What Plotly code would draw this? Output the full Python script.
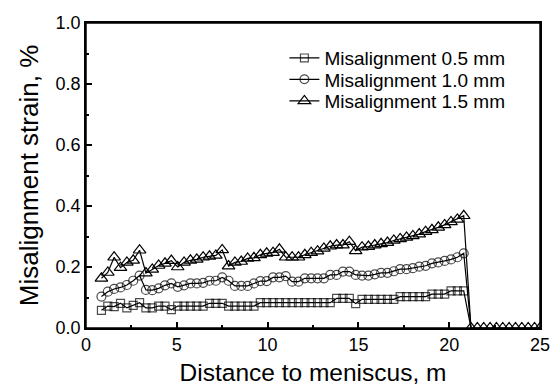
import plotly.graph_objects as go

# Distance to meniscus (m) sampled along the strand
distance = [0.85, 1.20, 1.55, 1.90, 2.25, 2.60, 2.95, 3.30, 3.65, 4.00,
            4.35, 4.70, 5.05, 5.40, 5.75, 6.10, 6.45, 6.80, 7.15, 7.50,
            7.85, 8.20, 8.55, 8.90, 9.25, 9.60, 9.95, 10.30, 10.65, 11.00,
            11.35, 11.70, 12.05, 12.40, 12.75, 13.10, 13.45, 13.80, 14.15, 14.50,
            14.85, 15.20, 15.55, 15.90, 16.25, 16.60, 16.95, 17.30, 17.65, 18.00,
            18.35, 18.70, 19.05, 19.40, 19.75, 20.10, 20.45, 20.80]

# Misalignment strain (%) for each misalignment value
strain_05 = [0.058, 0.072, 0.070, 0.081, 0.066, 0.074, 0.083, 0.066, 0.066, 0.072,
             0.072, 0.060, 0.072, 0.072, 0.072, 0.072, 0.072, 0.081, 0.081, 0.081,
             0.072, 0.072, 0.072, 0.072, 0.072, 0.083, 0.083, 0.083, 0.083, 0.083,
             0.083, 0.083, 0.083, 0.083, 0.083, 0.083, 0.083, 0.097, 0.097, 0.097,
             0.080, 0.094, 0.094, 0.094, 0.094, 0.094, 0.094, 0.103, 0.103, 0.103,
             0.103, 0.103, 0.111, 0.111, 0.111, 0.122, 0.122, 0.122]

strain_10 = [0.103, 0.119, 0.128, 0.133, 0.141, 0.155, 0.172, 0.125, 0.124, 0.130,
             0.140, 0.146, 0.135, 0.140, 0.146, 0.146, 0.148, 0.155, 0.155, 0.166,
             0.155, 0.138, 0.138, 0.138, 0.146, 0.154, 0.154, 0.166, 0.166, 0.170,
             0.152, 0.152, 0.163, 0.163, 0.163, 0.163, 0.174, 0.174, 0.185, 0.185,
             0.174, 0.172, 0.172, 0.176, 0.181, 0.181, 0.186, 0.193, 0.193, 0.196,
             0.201, 0.204, 0.212, 0.215, 0.220, 0.225, 0.232, 0.245]

strain_15 = [0.163, 0.182, 0.232, 0.198, 0.215, 0.222, 0.255, 0.180, 0.192, 0.205,
             0.212, 0.221, 0.200, 0.215, 0.222, 0.225, 0.232, 0.235, 0.238, 0.256,
             0.203, 0.215, 0.218, 0.228, 0.230, 0.240, 0.245, 0.247, 0.258, 0.232,
             0.232, 0.232, 0.240, 0.247, 0.252, 0.261, 0.268, 0.272, 0.272, 0.283,
             0.253, 0.265, 0.267, 0.272, 0.276, 0.280, 0.287, 0.292, 0.297, 0.302,
             0.308, 0.316, 0.322, 0.330, 0.338, 0.348, 0.356, 0.368]

# Beyond the end of the zone the strain falls to zero
tail_distance = [21.20, 21.55, 21.90, 22.25, 22.60, 22.95, 23.30, 23.65, 24.00, 24.35, 24.70, 25.00]
tail_strain = [0.0, 0.0, 0.0, 0.0, 0.0, 0.0, 0.0, 0.0, 0.0, 0.0, 0.0, 0.0]

series_names = ["Misalignment 0.5 mm", "Misalignment 1.0 mm", "Misalignment 1.5 mm"]

FONT = "Liberation Sans, Arial, sans-serif"

fig = go.Figure()

# 0.5 mm and 1.0 mm: drop line to the first zero point (marker hidden there)
for name, vals, sym, size, leg in [(series_names[0], strain_05, "square-open", 8, "legend"),
                                   (series_names[1], strain_10, "circle-open", 9, "legend2")]:
    xs = distance + tail_distance[:1]
    ys = vals + tail_strain[:1]
    sizes = [size] * len(vals) + [0]
    fig.add_trace(go.Scatter(
        x=xs, y=ys, name=name, mode="lines+markers", legend=leg,
        line=dict(color="black", width=1.2),
        marker=dict(symbol=sym, size=sizes, color="black", line=dict(width=1.2)),
    ))

# 1.5 mm: continues with zero points to the end of the range
fig.add_trace(go.Scatter(
    x=distance + tail_distance, y=strain_15 + tail_strain,
    name=series_names[2], mode="lines+markers", legend="legend3",
    line=dict(color="black", width=1.2),
    marker=dict(symbol="triangle-up-open", size=11, color="black", line=dict(width=1.2)),
))

axis_common = dict(
    showline=True, linecolor="black", linewidth=1.5, mirror=True,
    ticks="inside", ticklen=6, tickwidth=1.5, tickcolor="black",
    showgrid=False, zeroline=False, automargin=False, ticklabeloverflow="allow",
    tickfont=dict(family=FONT, size=18, color="black"),
)

fig.update_xaxes(
    range=[0, 25], tickmode="array", tickvals=[0, 5, 10, 15, 20, 25],
    minor=dict(ticks="inside", ticklen=3, tickwidth=1.5, tickcolor="black",
               tickvals=[2.5, 7.5, 12.5, 17.5, 22.5]),
    title=dict(text="Distance to meniscus, m", font=dict(family=FONT, size=24.5, color="black"),
               standoff=10),
    **axis_common,
)
fig.update_yaxes(
    range=[0, 1.0], tickmode="array", tickvals=[0, 0.2, 0.4, 0.6, 0.8, 1.0],
    tickformat=".1f",
    minor=dict(ticks="inside", ticklen=3, tickwidth=1.5, tickcolor="black",
               tickvals=[0.1, 0.3, 0.5, 0.7, 0.9]),
    title=dict(text="Misalignment strain, %", font=dict(family=FONT, size=26, color="black"),
               standoff=10),
    **axis_common,
)

# Frame around the plotting area
fig.add_shape(type="rect", xref="x domain", yref="y domain", x0=0, y0=0, x1=1, y1=1,
              line=dict(color="black", width=1.5), fillcolor="rgba(0,0,0,0)", layer="above")

legend_style = dict(xanchor="left", yanchor="middle", bgcolor="rgba(0,0,0,0)",
                    borderwidth=0, font=dict(family=FONT, size=19, color="black"),
                    itemwidth=30)

fig.update_layout(
    width=551, height=388,
    margin=dict(l=86, r=11, t=23, b=60),
    paper_bgcolor="white", plot_bgcolor="white",
    showlegend=True,
    legend=dict(x=0.437, y=0.885, **legend_style),
    legend2=dict(x=0.437, y=0.815, **legend_style),
    legend3=dict(x=0.437, y=0.744, **legend_style),
    font=dict(family=FONT, color="black"),
)

fig.write_html("out.html")
